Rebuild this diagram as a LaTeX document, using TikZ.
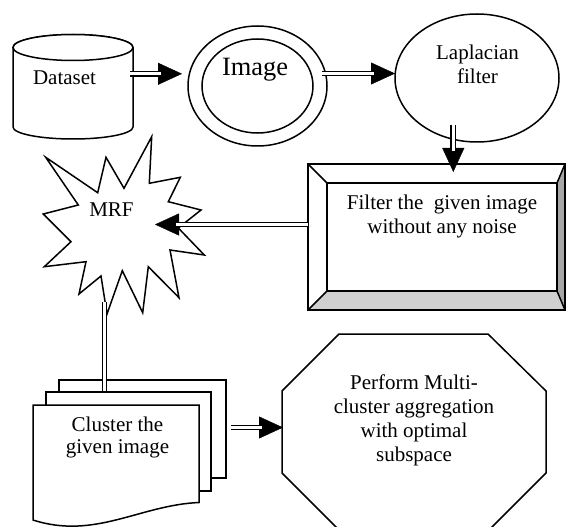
\documentclass[tikz,border=0pt]{standalone}
\usepackage{fontspec}
\setmainfont{Liberation Serif}
\usetikzlibrary{arrows.meta,shapes.geometric}
\definecolor{bevellight}{HTML}{D0D0D0}
\definecolor{beveldark}{HTML}{A6A6A6}
\tikzset{
  boxline/.style={draw=black, line width=1.5pt, fill=white, line join=miter},
  edgeline/.style={draw=black, line width=1.5pt},
  txt/.style={inner sep=0pt, align=center, font=\fontsize{21}{24}\selectfont},
  shaft/.style={draw=black, double=white, double distance=3pt, line width=1.4pt, shorten >=21pt},
  tiponly/.style={line width=0.4pt, -{Triangle[length=24pt,width=22pt]}},
}
% filled head first, then the double shaft laid over it
\newcommand\dblarrow[2]{\draw[tiponly] (#1) -- (#2); \draw[shaft] (#1) -- (#2);}
\begin{document}
\begin{tikzpicture}[x=1pt,y=1pt]
\useasboundingbox (0,0) rectangle (566,-527);
\clip (0,0) rectangle (566,-527);

% Dataset cylinder
\path[boxline] (13,-47.5) -- (13,-127)
  arc[start angle=180,end angle=360,x radius=60,y radius=12]
  -- (133,-47.5) arc[start angle=0,end angle=180,x radius=60,y radius=13] -- cycle;
\draw[boxline] (73,-47.5) ellipse[x radius=60,y radius=13];
\node[txt, anchor=base] (ds) at (64.5,-85) {Dataset};

% Image: double ellipse
\node[ellipse, boxline, minimum width=139pt, minimum height=120pt, inner sep=0pt] (img) at (257.5,-86) {};
\node[ellipse, edgeline, minimum width=111pt, minimum height=94pt, inner sep=0pt] (imgin) at (257.5,-86) {};
\node[txt, anchor=base, font=\fontsize{26.4}{30}\selectfont] (imgt) at (255,-76) {Image};

% Laplacian filter ellipse (multi-line text: base anchor sits on the last line)
\node[ellipse, boxline, minimum width=164pt, minimum height=128pt, inner sep=0pt] (lap) at (477,-78) {};
\node[txt, anchor=base] (lapt) at (477.5,-84) {Laplacian\\filter};

% Bevelled box
\fill[white] (308,-164) rectangle (565,-310);
\fill[bevellight] (308,-310) -- (565,-310) -- (557,-291) -- (327,-291) -- cycle;
\fill[beveldark] (565,-164) -- (565,-310) -- (557,-291) -- (557,-183) -- cycle;
\draw[edgeline] (308,-164) rectangle (565,-310);
\draw[edgeline] (327,-183) rectangle (557,-291);
\draw[edgeline] (308,-164) -- (327,-183) (565,-164) -- (557,-183)
  (308,-310) -- (327,-291) (565,-310) -- (557,-291);
\node[txt, anchor=base, font=\fontsize{21}{24.5}\selectfont] (flt) at (442,-233.8) {Filter the\ \ given image\\without any noise};

% MRF burst
\draw[boxline] (45.7,-157.3) -- (97.7,-192.7) -- (106,-157.3) -- (124,-188.3)
  -- (151.7,-136.7) -- (149.3,-183.3) -- (180.3,-177.3) -- (168.3,-201.7)
  -- (201,-210) -- (178.3,-228) -- (204.3,-255) -- (170,-250)
  -- (179,-297.7) -- (148.3,-266.7) -- (142.7,-312.7) -- (122.3,-270.7)
  -- (107,-314) -- (101,-276) -- (79,-294) -- (86,-261.7)
  -- (44.3,-266.7) -- (71,-241.7) -- (43.3,-214) -- (78.3,-205) -- cycle;
\node[txt, anchor=base] (mrf) at (111.5,-216) {MRF};

% Octagon
\draw[boxline] (339,-334) -- (488,-334) -- (546,-391) -- (546,-473)
  -- (489,-530) -- (339,-530) -- (282,-473) -- (282,-391) -- cycle;
\node[txt, anchor=base] (oct) at (414,-461) {Perform Multi-\\cluster aggregation\\with optimal\\subspace};

% Connector end points
\coordinate (a1s) at (130,-73.8);   \coordinate (a1e) at (182,-73.8);
\coordinate (a2s) at (322,-73.5);   \coordinate (a2e) at (395,-73.5);
\coordinate (a3s) at (453.3,-125);  \coordinate (a3e) at (453.3,-172);
\coordinate (a4s) at (308,-224.5);  \coordinate (a4e) at (155,-224.5);
\coordinate (a5s) at (104.4,-302);  \coordinate (a5e) at (104.4,-398);
\coordinate (a6s) at (231,-427.5);  \coordinate (a6e) at (283,-427.5);

% Stacked pages
\draw[boxline] (59,-380) rectangle (226,-478);
\draw[shaft, shorten >=0pt] (a5s) -- (a5e);
\draw[boxline] (46,-392) rectangle (211,-491);
\draw[boxline] (33,-405) -- (199,-405) -- (199,-502.5)
  .. controls (140,-505) and (95,-540) .. (33,-520) -- cycle;
\node[txt, anchor=base, font=\fontsize{21}{22}\selectfont] (clu) at (117.5,-453.5) {Cluster the\\given image};

% Flow arrows
\dblarrow{a1s}{a1e}
\dblarrow{a2s}{a2e}
\dblarrow{a3s}{a3e}
\dblarrow{a4s}{a4e}
\dblarrow{a6s}{a6e}
\end{tikzpicture}
\end{document}
